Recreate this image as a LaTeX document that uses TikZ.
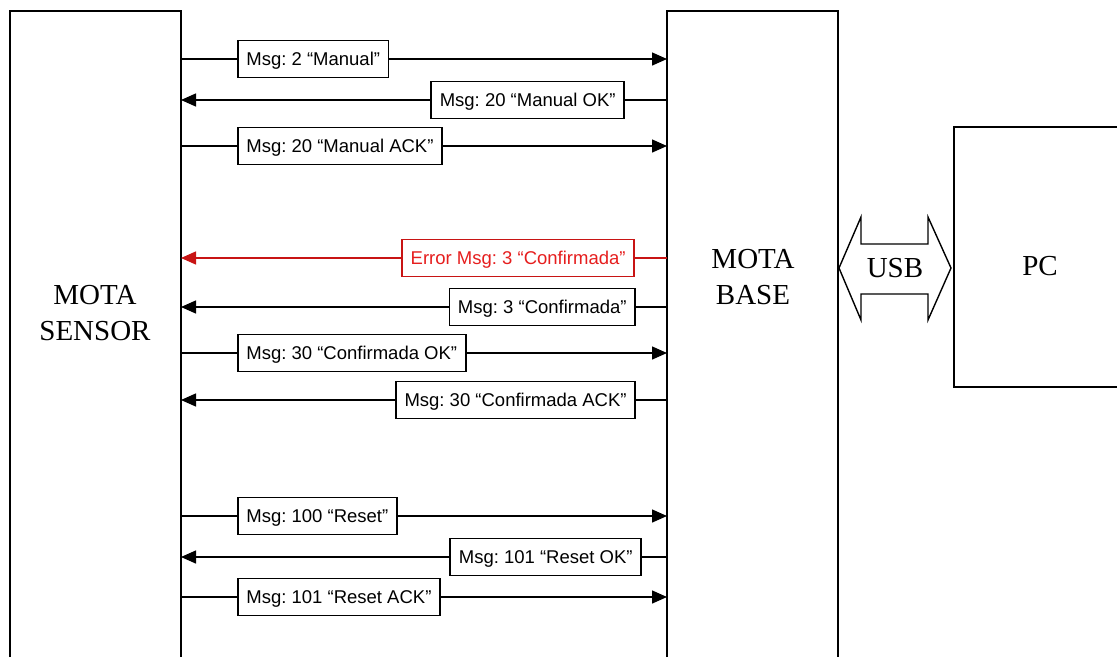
\documentclass[tikz,border=0pt]{standalone}
\usepackage{fontspec}
\newfontfamily\msgfont{Liberation Sans}
\newfontfamily\lblfont{Liberation Serif}
\usetikzlibrary{arrows.meta}
\frenchspacing
\definecolor{errred}{RGB}{200,20,20}
\definecolor{errtext}{RGB}{230,30,30}
\tikzset{
  frame/.style={line width=1.8pt, line join=miter},
  bigtext/.style={font=\lblfont\fontsize{29}{36}\selectfont, align=center},
  msgbox/.style={draw, line width=1.8pt, fill=white, font=\msgfont\fontsize{18.5}{22}\selectfont,
    inner xsep=8.5pt, inner ysep=0pt, minimum height=37pt, text height=17pt, text depth=3.8pt},
  msgline/.style={line width=1.4pt},
  tip/.style={-{Triangle[length=15pt,width=13pt]}},
  errbox/.style={msgbox, draw=errred, text=errtext},
  errline/.style={msgline, draw=errred}
}
\begin{document}
\begin{tikzpicture}[x=1pt,y=-1pt]
\useasboundingbox (0,0) rectangle (1117,657);
% frames (open at the bottom / right edge)
\draw[frame] (10,657) -- (10,11) -- (181,11) -- (181,657);
\draw[frame] (667,657) -- (667,11) -- (838,11) -- (838,657);
\draw[frame] (1118,127) -- (954,127) -- (954,387) -- (1118,387);
\node[bigtext] (sensor) at (95,313) {MOTA\\SENSOR};
\node[bigtext] (base) at (753,277) {MOTA\\BASE};
\node[bigtext] (pc) at (1040,266) {PC};
% USB double arrow
\draw[line width=1.4pt, line join=miter] (839,268) -- (861,217) -- (861,244) -- (928,244) -- (928,217)
  -- (951,268) -- (928,320) -- (928,294) -- (861,294) -- (861,320) -- cycle;
\node[bigtext] (usb) at (895,268) {USB};
% lane coordinates
\foreach \n/\y in {1/59,2/100,3/146,4/258,5/307,6/353,7/400,8/516,9/557,10/597}{
  \coordinate (s\n) at (181,\y);
  \coordinate (b\n) at (667,\y);
}
% messages sensor -> base
\node[msgbox, anchor=west] (m1) at (237,59) {Msg: 2 “Manual”};
\draw[msgline] (s1) -- (m1.west);
\draw[msgline, tip] (m1.east) -- (b1);
\node[msgbox, anchor=west] (m3) at (237,146) {Msg: 20 “Manual ACK”};
\draw[msgline] (s3) -- (m3.west);
\draw[msgline, tip] (m3.east) -- (b3);
\node[msgbox, anchor=west] (m6) at (237,353) {Msg: 30 “Confirmada OK”};
\draw[msgline] (s6) -- (m6.west);
\draw[msgline, tip] (m6.east) -- (b6);
\node[msgbox, anchor=west] (m8) at (237,516) {Msg: 100 “Reset”};
\draw[msgline] (s8) -- (m8.west);
\draw[msgline, tip] (m8.east) -- (b8);
\node[msgbox, anchor=west] (m10) at (237,597) {Msg: 101 “Reset ACK”};
\draw[msgline] (s10) -- (m10.west);
\draw[msgline, tip] (m10.east) -- (b10);
% messages base -> sensor
\node[msgbox, anchor=east] (m2) at (625,100) {Msg: 20 “Manual OK”};
\draw[msgline] (b2) -- (m2.east);
\draw[msgline, tip] (m2.west) -- (s2);
\node[errbox, anchor=east] (m4) at (635,258) {Error Msg: 3 “Confirmada”};
\draw[errline] (b4) -- (m4.east);
\draw[errline, tip] (m4.west) -- (s4);
\node[msgbox, anchor=east] (m5) at (636,307) {Msg: 3 “Confirmada”};
\draw[msgline] (b5) -- (m5.east);
\draw[msgline, tip] (m5.west) -- (s5);
\node[msgbox, anchor=east] (m7) at (636,400) {Msg: 30 “Confirmada ACK”};
\draw[msgline] (b7) -- (m7.east);
\draw[msgline, tip] (m7.west) -- (s7);
\node[msgbox, anchor=east] (m9) at (642,557) {Msg: 101 “Reset OK”};
\draw[msgline] (b9) -- (m9.east);
\draw[msgline, tip] (m9.west) -- (s9);
\end{tikzpicture}
\end{document}
